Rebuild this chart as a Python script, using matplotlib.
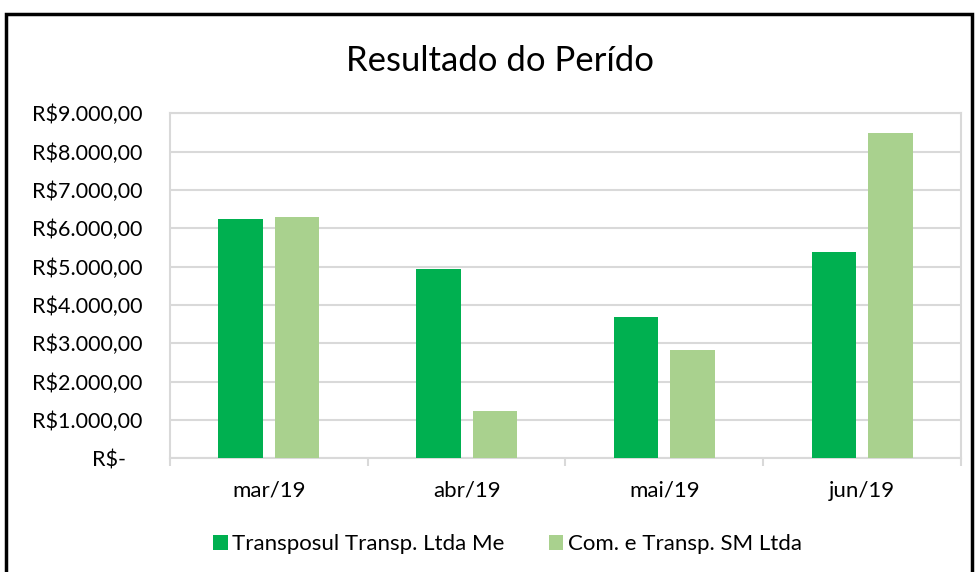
import numpy as np
import matplotlib.pyplot as plt
from matplotlib.patches import Rectangle
from matplotlib.ticker import FuncFormatter, MultipleLocator

plt.rcParams['font.family'] = ['Lato', 'DejaVu Sans']

months = ["mar/19", "abr/19", "mai/19", "jun/19"]
transposul = [6250, 4950, 3690, 5380]
com_transp = [6300, 1230, 2830, 8475]
series_names = ["Transposul Transp. Ltda Me", "Com. e Transp. SM Ltda"]

DARK = "#00B050"
LIGHT = "#A9D18E"
GRID = "#D9D9D9"


def brl(v, pos):
    if v == 0:
        return "R$-   "
    s = f"{v:,.2f}".replace(",", "X").replace(".", ",").replace("X", ".")
    return "R$" + s


fig = plt.figure(figsize=(9.76, 5.72), dpi=100)
ax = fig.add_axes([0.1742, 0.1988, 0.8104, 0.6031])

x = np.arange(len(months))
w = 0.225
ax.bar(x - 0.143, transposul, w, color=DARK, label=series_names[0], zorder=3)
ax.bar(x + 0.143, com_transp, w, color=LIGHT, label=series_names[1], zorder=3)

ax.set_xlim(-0.5, len(months) - 0.5)
ax.set_ylim(0, 9000)
ax.yaxis.set_major_locator(MultipleLocator(1000))
ax.yaxis.set_major_formatter(FuncFormatter(brl))
ax.grid(axis="y", color=GRID, linewidth=1.5, zorder=0)

ax.set_xticks(x)
ax.set_xticklabels(months)
ax.set_xticks(np.arange(len(months) + 1) - 0.5, minor=True)
ax.tick_params(axis="x", which="major", length=0, pad=16, labelsize=16)
ax.tick_params(axis="x", which="minor", length=6, color=GRID, width=1.5)
ax.tick_params(axis="y", length=0, pad=20, labelsize=15.5)
for sp in ax.spines.values():
    sp.set_color(GRID)
    sp.set_linewidth(1.5)

fig.text(0.512, 0.893, "Resultado do Perído", ha="center", va="center", fontsize=25)

fig.legend(loc="center", bbox_to_anchor=(0.52, 0.049), ncol=2, frameon=False,
           fontsize=16, handlelength=0.65, handleheight=0.65, handletextpad=0.2,
           columnspacing=2.0)

# outer chart border
fig.patches.append(Rectangle((0.006, -0.05), 0.990, 1.025, transform=fig.transFigure,
                             fill=False, edgecolor="black", linewidth=2.5))

fig.savefig("out.png", dpi=100)
